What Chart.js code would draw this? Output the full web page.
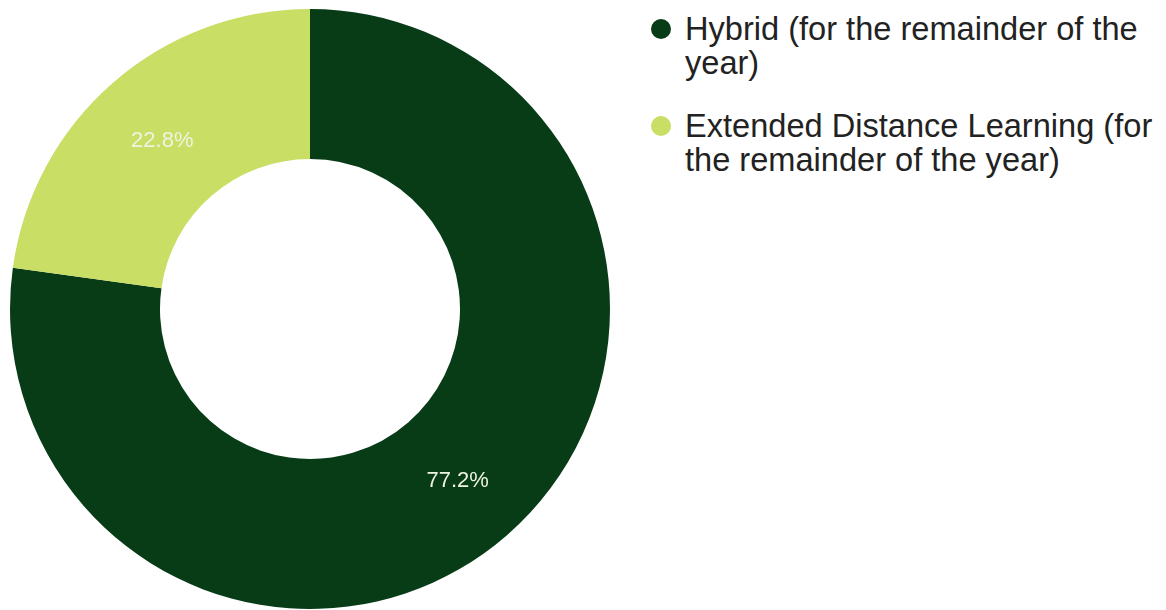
<!DOCTYPE html>
<html>
<head>
<meta charset="utf-8">
<script src="https://cdn.jsdelivr.net/npm/chart.js@4"></script>
<style>
  html, body { margin: 0; padding: 0; background: #fff; }
  body { width: 1166px; height: 610px; position: relative; overflow: hidden; font-family: 'Liberation Sans', Arial, sans-serif; }
  #chartBox { position: absolute; left: 0; top: 0; width: 620px; height: 610px; }
  #legend { position: absolute; left: 650px; top: 12px; width: 516px; }
  .item { position: relative; padding-left: 35px; font-size: 32.6px; line-height: 34px; color: #222; margin-bottom: 29px; }
  .dot { position: absolute; left: 1px; top: 7px; width: 20px; height: 20px; border-radius: 50%; }
</style>
</head>
<body>
<div id="chartBox"><canvas id="donut"></canvas></div>
<div id="legend"></div>
<script>
const categories = ['Hybrid (for the remainder of the year)', 'Extended Distance Learning (for the remainder of the year)'];
const shares = [77.2, 22.8];
const colors = ['#083c17', '#c8de64'];

// percent text in the middle of each slice
const sliceLabels = {
  id: 'sliceLabels',
  afterDatasetsDraw(chart) {
    const ctx = chart.ctx;
    const meta = chart.getDatasetMeta(0);
    ctx.save();
    ctx.font = '22px "Liberation Sans", Arial, sans-serif';
    ctx.fillStyle = '#eef3e2';
    ctx.textAlign = 'center';
    ctx.textBaseline = 'middle';
    meta.data.forEach((arc, i) => {
      const p = arc.getCenterPoint();
      ctx.fillText(shares[i].toFixed(1) + '%', p.x, p.y + 2);
    });
    ctx.restore();
  }
};

new Chart(document.getElementById('donut'), {
  type: 'doughnut',
  data: {
    labels: categories,
    datasets: [{
      data: shares,
      backgroundColor: colors,
      borderWidth: 0
    }]
  },
  options: {
    responsive: true,
    maintainAspectRatio: false,
    animation: false,
    cutout: '50%',
    layout: { padding: { left: 10, right: 10, top: 9, bottom: 1 } },
    plugins: {
      legend: { display: false },
      tooltip: { enabled: false }
    }
  },
  plugins: [sliceLabels]
});

const legend = document.getElementById('legend');
categories.forEach((name, i) => {
  const item = document.createElement('div');
  item.className = 'item';
  const dot = document.createElement('span');
  dot.className = 'dot';
  dot.style.background = colors[i];
  item.appendChild(dot);
  item.appendChild(document.createTextNode(name));
  legend.appendChild(item);
});
</script>
</body>
</html>
